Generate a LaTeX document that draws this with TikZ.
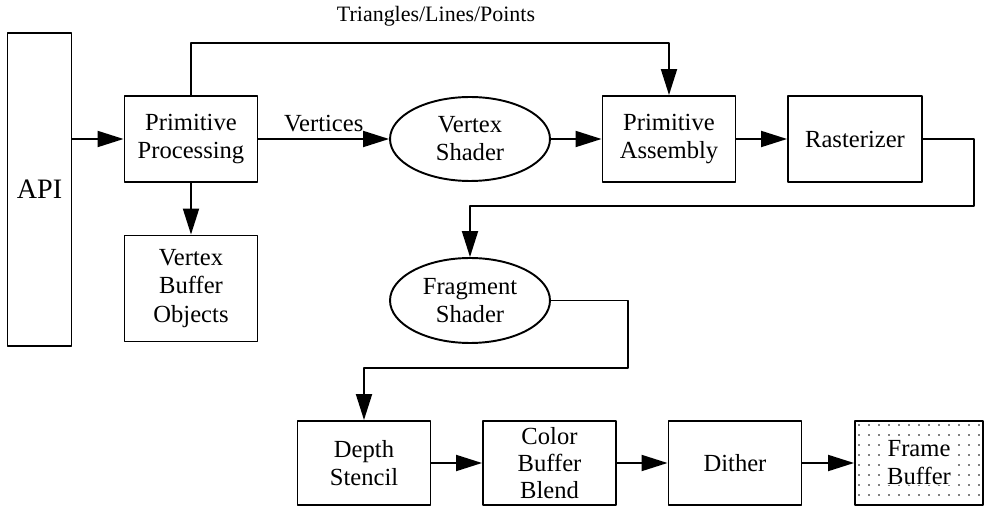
\documentclass[tikz,border=0pt]{standalone}
\usepackage{fontspec}
\setmainfont{Liberation Serif}
\newfontfamily\diagfont{Liberation Serif}
\usetikzlibrary{arrows.meta}
\usetikzlibrary{shapes.geometric}

\tikzset{
  stage/.style={draw, rectangle, align=center, inner sep=1pt,
    minimum width=2.66cm, minimum height=1.72cm,
    font=\diagfont\fontsize{14}{16}\selectfont},
  shader/.style={draw, ellipse, align=center, inner sep=0pt,
    minimum width=3.2cm, minimum height=1.68cm,
    font=\diagfont\fontsize{14}{16}\selectfont},
  flow/.style={->, >={Triangle[length=0.52cm,width=0.32cm]}},
}

\begin{document}
\begin{tikzpicture}[x=0.02cm, y=-0.02cm, line width=1.1pt, line join=round]
\useasboundingbox (0,0) rectangle (984,506);
% stages
\node[stage, minimum width=1.28cm, minimum height=6.26cm, font=\diagfont\fontsize{16}{19}\selectfont] (api) at (39.5,189.5) {API};
\node[stage] (prim) at (191,139) {Primitive\\Processing};
\node[stage, minimum height=2.12cm] (vbo) at (191,288.5) {Vertex\\Buffer\\Objects};
\node[shader] (vshade) at (470,139) {Vertex\\Shader};
\node[stage] (assem) at (669,139) {Primitive\\Assembly};
\node[stage, minimum width=2.68cm] (rast) at (855,139) {Rasterizer};
\node[shader, minimum height=1.7cm] (fshade) at (470,300.5) {Fragment\\Shader};
\node[stage, minimum height=1.68cm] (depth) at (364,463) {Depth\\Stencil};
\node[stage, minimum height=1.68cm, font=\diagfont\fontsize{14}{15.5}\selectfont] (blend) at (549.5,463) {Color\\Buffer\\Blend};
\node[stage, minimum height=1.68cm] (dither) at (735,463) {Dither};
\node[stage, minimum width=2.56cm, minimum height=1.68cm] (frame) at (919,463) {};
\begin{scope}
\clip (frame.south west) rectangle (frame.north east);
\foreach \i in {0,...,12}
  \foreach \j in {0,...,8}
    \fill (859+10*\i, 425+10*\j) circle (0.5pt);
\end{scope}
\node[fill=white, align=center, inner sep=0pt, font=\diagfont\fontsize{14}{16}\selectfont] (framelbl) at (frame.center) {Frame\\Buffer};

% connectors
\draw[flow] (api.east |- prim.west) -- (prim.west);
\draw[flow] (prim.east) -- node[above, font=\diagfont\fontsize{14}{16}\selectfont] (vtxlbl) {Vertices} (vshade.west);
\draw[flow] (prim.south) -- (vbo.north);
\coordinate (over) at (430,43);
\draw[flow] (prim.north) |- (over) -| (assem.north);
\node[font=\diagfont\fontsize{12.5}{15}\selectfont] (tlplbl) at (436,16) {Triangles/Lines/Points};
\draw[flow] (vshade.east) -- (assem.west);
\draw[flow] (assem.east) -- (rast.west);
\coordinate (wrapA) at (974,206);
\draw[flow] (rast.east) -| (wrapA) -| (fshade.north);
\coordinate (wrapB) at (628,368);
\draw[flow] (fshade.east) -| (wrapB) -| (depth.north);
\draw[flow] (depth) -- (blend);
\draw[flow] (blend) -- (dither);
\draw[flow] (dither) -- (frame);
\end{tikzpicture}
\end{document}
